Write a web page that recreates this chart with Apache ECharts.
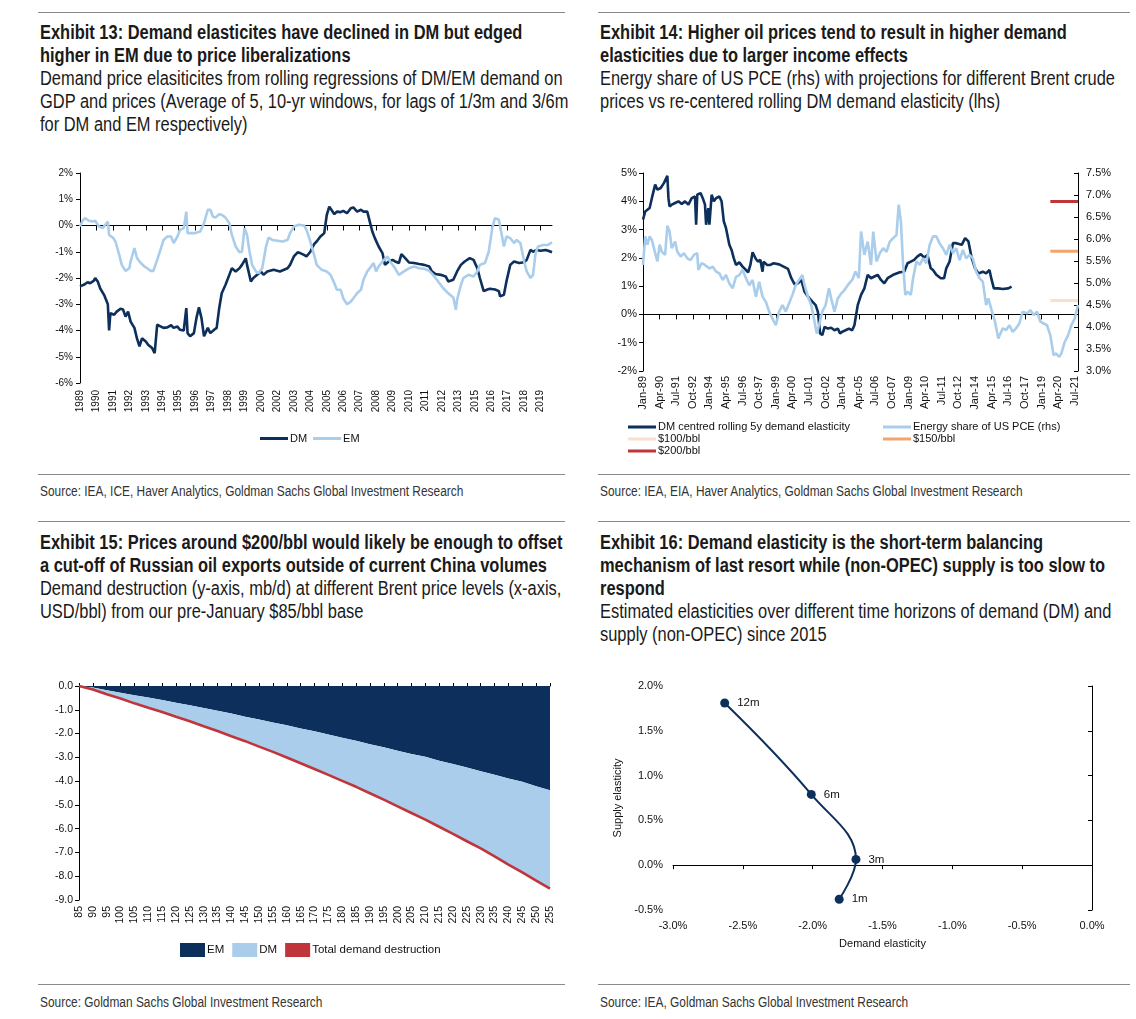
<!DOCTYPE html>
<html><head><meta charset="utf-8">
<script src="https://cdn.jsdelivr.net/npm/echarts@6/dist/echarts.min.js"></script>
<style>
body{margin:0;background:#fff;width:1136px;height:1019px;position:relative;overflow:hidden;font-family:'Liberation Sans',Arial,sans-serif;color:#1a1a1a}
.hr{position:absolute;height:0;border-top:1px solid #8a8a8a}
.title{position:absolute;font-size:19.5px;line-height:23px;white-space:nowrap;transform:scaleX(0.843);transform-origin:0 0}
.title b{font-weight:bold}
.src{position:absolute;font-size:14px;color:#333;white-space:nowrap;transform:scaleX(0.85);transform-origin:0 0}
.chart{position:absolute}
</style></head><body>
<div class="hr" style="left:38px;top:12px;width:527px"></div>
<div class="hr" style="left:598px;top:12px;width:532px"></div>
<div class="hr" style="left:38px;top:474px;width:527px"></div>
<div class="hr" style="left:598px;top:474px;width:532px"></div>
<div class="hr" style="left:38px;top:521px;width:527px"></div>
<div class="hr" style="left:598px;top:521px;width:532px"></div>
<div class="hr" style="left:38px;top:984px;width:527px"></div>
<div class="hr" style="left:598px;top:984px;width:532px"></div>

<div class="title" style="left:40px;top:21px"><b>Exhibit 13: Demand elasticites have declined in DM but edged<br>higher in EM due to price liberalizations</b><br>Demand price elasiticites from rolling regressions of DM/EM demand on<br>GDP and prices (Average of 5, 10-yr windows, for lags of 1/3m and 3/6m<br>for DM and EM respectively)</div>
<div class="title" style="left:600px;top:21px"><b>Exhibit 14: Higher oil prices tend to result in higher demand<br>elasticities due to larger income effects</b><br>Energy share of US PCE (rhs) with projections for different Brent crude<br>prices vs re-centered rolling DM demand elasticity (lhs)</div>
<div class="title" style="left:40px;top:531px"><b>Exhibit 15: Prices around $200/bbl would likely be enough to offset<br>a cut-off of Russian oil exports outside of current China volumes</b><br>Demand destruction (y-axis, mb/d) at different Brent price levels (x-axis,<br>USD/bbl) from our pre-January $85/bbl base</div>
<div class="title" style="left:600px;top:531px"><b>Exhibit 16: Demand elasticity is the short-term balancing<br>mechanism of last resort while (non-OPEC) supply is too slow to<br>respond</b><br>Estimated elasticities over different time horizons of demand (DM) and<br>supply (non-OPEC) since 2015</div>

<div class="src" style="left:40px;top:483px">Source: IEA, ICE, Haver Analytics, Goldman Sachs Global Investment Research</div>
<div class="src" style="left:600px;top:483px">Source: IEA, EIA, Haver Analytics, Goldman Sachs Global Investment Research</div>
<div class="src" style="left:40px;top:994px">Source: Goldman Sachs Global Investment Research</div>
<div class="src" style="left:600px;top:994px">Source: IEA, Goldman Sachs Global Investment Research</div>

<div id="c1" class="chart" style="left:0;top:150px;width:568px;height:320px"></div>
<div id="c2" class="chart" style="left:568px;top:150px;width:568px;height:320px"></div>
<div id="c3" class="chart" style="left:0;top:660px;width:568px;height:310px"></div>
<div id="c4" class="chart" style="left:568px;top:660px;width:568px;height:310px"></div>

<script>
// ---------- Exhibit 13: [months since Jan-1989, elasticity %] ----------
const ex13Start = 1989, ex13Months = 374;
const ex13DM = [[0,-2.32],[3,-2.26],[6,-2.16],[8,-2.2],[11,-2.1],[12,-2.0],[14,-2.13],[16,-2.4],[19,-2.64],[22,-3.0],[23,-4.0],[24,-3.34],[27,-3.4],[29,-3.28],[32,-3.17],[34,-3.2],[36,-3.47],[38,-3.28],[40,-3.66],[43,-3.9],[45,-4.3],[47,-4.6],[49,-4.3],[52,-4.42],[54,-4.55],[57,-4.67],[59,-4.86],[61,-3.78],[64,-3.85],[66,-3.9],[69,-3.88],[72,-3.8],[74,-3.9],[77,-3.85],[79,-3.97],[82,-4.0],[84,-3.15],[85,-4.1],[87,-4.22],[90,-4.1],[92,-3.53],[94,-3.12],[96,-3.53],[98,-4.22],[101,-3.9],[103,-4.1],[106,-3.97],[108,-3.9],[110,-3.15],[112,-2.58],[115,-2.26],[118,-1.88],[120,-1.63],[123,-1.75],[126,-1.63],[128,-1.5],[131,-1.25],[132,-1.5],[135,-2.13],[137,-2.0],[140,-1.88],[143,-1.75],[145,-1.88],[148,-1.75],[153,-1.69],[158,-1.75],[164,-1.63],[166,-1.5],[169,-1.18],[172,-1.02],[174,-1.05],[177,-1.12],[179,-1.18],[182,-1.0],[185,-0.71],[187,-0.61],[190,-0.42],[193,-0.29],[195,0.4],[197,0.72],[198,0.66],[201,0.43],[203,0.53],[206,0.51],[208,0.56],[211,0.47],[214,0.66],[216,0.69],[219,0.53],[222,0.6],[224,0.53],[227,0.53],[229,0.15],[231,-0.23],[233,-0.48],[236,-0.8],[239,-1.05],[241,-1.5],[244,-1.37],[247,-1.31],[249,-1.37],[252,-1.43],[254,-1.09],[257,-1.24],[260,-1.41],[264,-1.43],[268,-1.47],[272,-1.5],[276,-1.56],[278,-1.75],[281,-1.85],[285,-1.88],[289,-1.94],[291,-2.13],[295,-2.07],[298,-1.75],[301,-1.5],[304,-1.37],[308,-1.24],[311,-1.31],[314,-1.63],[316,-2.0],[319,-2.5],[322,-2.44],[324,-2.41],[328,-2.44],[331,-2.5],[332,-2.7],[335,-2.64],[337,-2.13],[340,-1.5],[343,-1.37],[347,-1.43],[351,-1.4],[353,-1.31],[356,-0.93],[358,-1.0],[361,-0.93],[364,-0.96],[368,-0.93],[370,-0.96],[373,-1.02]];
const ex13EM = [[0,-0.04],[2,0.18],[4,0.28],[7,0.18],[10,0.15],[12,0.18],[15,-0.04],[18,-0.1],[20,0.03],[22,0.15],[23,-0.36],[26,-0.46],[28,-0.61],[31,-1.12],[33,-1.5],[36,-1.73],[39,-1.63],[40,-1.37],[43,-0.86],[45,-1.24],[48,-1.43],[51,-1.56],[53,-1.63],[56,-1.73],[58,-1.73],[61,-1.31],[64,-0.86],[66,-0.55],[69,-0.42],[72,-0.42],[74,-0.67],[77,-0.42],[79,-0.17],[82,-0.1],[84,0.53],[85,-0.29],[87,-0.29],[91,-0.29],[95,-0.23],[98,0.09],[101,0.6],[103,0.6],[105,0.34],[107,0.3],[110,0.43],[112,0.41],[115,0.3],[118,0.09],[120,-0.36],[123,-0.8],[126,-1.02],[128,-1.0],[130,-0.1],[132,-0.36],[134,-1.0],[136,-1.5],[139,-1.75],[141,-1.82],[144,-1.63],[147,-0.8],[149,-0.46],[152,-0.55],[156,-0.58],[160,-0.61],[164,-0.55],[166,-0.29],[169,-0.04],[173,0.03],[177,0.0],[179,-0.17],[182,-0.61],[185,-1.12],[187,-1.5],[191,-1.69],[195,-1.75],[198,-1.88],[201,-2.2],[203,-2.45],[206,-2.45],[208,-2.77],[211,-3.0],[214,-2.9],[216,-2.77],[219,-2.58],[222,-2.45],[224,-2.07],[227,-1.75],[229,-1.63],[232,-1.43],[234,-1.75],[236,-1.56],[239,-1.37],[243,-1.18],[245,-1.37],[248,-1.56],[252,-1.88],[256,-1.75],[260,-1.63],[264,-1.56],[268,-1.63],[272,-1.65],[276,-1.73],[279,-1.88],[283,-2.13],[287,-2.39],[291,-2.58],[295,-2.74],[297,-3.21],[298,-2.83],[301,-2.26],[303,-2.0],[307,-1.88],[311,-1.94],[314,-1.75],[316,-1.5],[320,-1.43],[323,-1.0],[326,-0.04],[328,0.28],[331,0.22],[333,-0.29],[335,-0.8],[337,-0.42],[340,-0.48],[343,-0.67],[345,-0.55],[348,-0.67],[351,-1.37],[353,-1.75],[356,-2.0],[358,-1.88],[360,-1.05],[362,-0.8],[366,-0.74],[370,-0.74],[373,-0.64]];

// ---------- Exhibit 14: [months since Jan-1989, value] ----------
const ex14Months = 394;
const ex14DM = [[0,3.35],[2,3.64],[4,3.7],[6,3.76],[8,4.11],[11,4.59],[13,4.41],[16,4.47],[19,4.65],[22,4.9],[23,4.11],[24,3.82],[26,3.88],[29,3.94],[32,4.0],[35,3.9],[38,4.0],[41,3.88],[44,4.11],[47,4.17],[48,3.17],[49,4.23],[52,4.29],[54,4.11],[56,3.88],[57,3.17],[59,3.76],[60,3.17],[62,4.23],[64,4.0],[66,4.11],[69,4.17],[71,4.0],[73,3.29],[75,3.05],[78,2.46],[80,2.28],[82,1.99],[84,1.75],[87,1.84],[90,1.69],[93,1.57],[95,1.49],[97,1.75],[99,2.2],[102,1.96],[104,1.87],[106,1.93],[108,1.51],[109,1.87],[112,1.75],[115,1.75],[118,1.81],[123,1.77],[127,1.69],[131,1.61],[134,1.28],[137,1.06],[140,1.1],[143,1.22],[146,0.8],[149,0.63],[153,0.45],[156,0.33],[158,0.09],[160,-0.67],[162,-0.73],[164,-0.44],[167,-0.5],[170,-0.47],[173,-0.56],[176,-0.5],[178,-0.67],[180,-0.61],[183,-0.56],[186,-0.5],[189,-0.56],[191,-0.38],[194,0.33],[197,0.69],[200,0.92],[203,1.4],[206,1.28],[209,1.34],[212,1.4],[215,1.22],[218,1.1],[221,1.28],[226,1.4],[232,1.49],[236,1.51],[239,1.81],[242,1.87],[245,1.93],[248,2.05],[251,2.13],[254,2.01],[257,2.1],[260,1.63],[262,1.57],[265,1.4],[269,1.28],[272,1.28],[274,1.63],[277,1.87],[280,2.52],[283,2.52],[288,2.46],[291,2.7],[294,2.58],[297,1.99],[300,1.63],[303,1.45],[307,1.51],[310,1.45],[313,1.57],[315,1.22],[317,0.92],[321,0.92],[325,0.9],[330,0.92],[333,0.98]];
const ex14Energy = [[0,5.41],[2,6.06],[4,5.87],[6,6.06],[8,5.98],[11,5.68],[13,5.49],[15,5.87],[17,5.71],[20,5.64],[22,6.3],[24,6.17],[26,5.79],[29,5.94],[31,5.71],[34,5.6],[37,5.68],[40,5.56],[43,5.52],[46,5.64],[49,5.68],[50,5.3],[53,5.45],[56,5.41],[60,5.33],[63,5.37],[66,5.26],[69,5.22],[72,5.07],[75,5.18],[78,4.99],[81,4.88],[84,5.14],[87,5.18],[90,5.3],[93,5.11],[96,4.95],[99,5.07],[102,4.69],[105,5.03],[108,4.69],[111,4.57],[114,4.35],[117,4.19],[120,4.04],[123,4.35],[126,4.5],[129,4.35],[132,4.54],[135,4.73],[138,4.95],[141,5.07],[144,5.18],[146,4.95],[149,4.69],[152,4.5],[155,4.12],[157,3.85],[159,4.04],[162,4.35],[165,4.5],[168,4.88],[170,4.65],[173,4.35],[176,4.65],[179,4.76],[182,4.84],[185,4.95],[189,5.07],[192,5.26],[195,5.11],[197,6.17],[200,5.64],[203,5.94],[206,5.41],[208,6.17],[211,5.49],[214,5.68],[217,5.79],[220,5.71],[223,5.94],[226,6.02],[229,6.09],[231,6.78],[233,6.4],[235,5.41],[237,4.73],[239,4.8],[242,4.73],[244,5.11],[247,5.49],[250,5.41],[253,5.56],[256,5.45],[259,5.87],[262,6.06],[265,6.06],[268,5.9],[271,5.79],[274,5.64],[277,5.87],[280,5.68],[283,5.79],[286,5.52],[289,5.75],[292,5.56],[295,5.64],[298,5.56],[301,5.26],[304,5.11],[307,5.03],[310,4.5],[312,4.65],[315,4.38],[318,4.12],[321,3.74],[322,3.7],[325,3.97],[328,3.93],[331,4.04],[334,3.89],[337,3.97],[340,4.08],[343,4.35],[347,4.31],[350,4.38],[353,4.27],[356,4.35],[359,4.12],[362,4.08],[365,4.04],[368,3.81],[371,3.36],[373,3.4],[376,3.32],[378,3.4],[381,3.66],[384,3.81],[387,4.04],[390,4.19],[393,4.5]];
const ex14Proj100 = [[368,4.6],[393,4.6]];
const ex14Proj150 = [[368,5.72],[393,5.72]];
const ex14Proj200 = [[368,6.85],[393,6.85]];

// ---------- Exhibit 15 ----------
const ex15Prices = [85,90,95,100,105,110,115,120,125,130,135,140,145,150,155,160,165,170,175,180,185,190,195,200,205,210,215,220,225,230,235,240,245,250,255];
const ex15EM = [0,-0.06,-0.18,-0.28,-0.39,-0.48,-0.59,-0.70,-0.81,-0.92,-1.04,-1.16,-1.29,-1.41,-1.54,-1.65,-1.79,-1.90,-2.04,-2.18,-2.30,-2.45,-2.58,-2.72,-2.86,-2.98,-3.14,-3.28,-3.43,-3.59,-3.73,-3.89,-4.03,-4.22,-4.38];
const ex15DM = [0,-0.09,-0.17,-0.25,-0.34,-0.43,-0.50,-0.59,-0.67,-0.77,-0.85,-0.95,-1.03,-1.14,-1.23,-1.36,-1.46,-1.59,-1.70,-1.81,-1.94,-2.06,-2.20,-2.34,-2.48,-2.64,-2.78,-2.94,-3.10,-3.24,-3.44,-3.62,-3.81,-3.96,-4.14];
const ex15Total = [0,-0.15,-0.35,-0.53,-0.73,-0.91,-1.09,-1.29,-1.48,-1.69,-1.89,-2.11,-2.32,-2.55,-2.77,-3.01,-3.25,-3.49,-3.74,-3.99,-4.24,-4.51,-4.78,-5.06,-5.34,-5.62,-5.92,-6.22,-6.53,-6.83,-7.17,-7.51,-7.84,-8.18,-8.52];

// ---------- Exhibit 16 ----------
const ex16Horizon = ['12m','6m','3m','1m'];
const ex16Demand = [-2.63,-2.01,-1.69,-1.81];
const ex16Supply = [1.81,0.79,0.065,-0.38];

// ---------- styling ----------
const NAVY = '#0c2f5b', LIGHT = '#a9cdeb', RED = '#c0353a', ORANGE = '#f2a46f', PEACH = '#fadfd0';
const FONT = "'Liberation Sans', Arial, sans-serif";
const lab = {fontSize:11,color:'#111',fontFamily:FONT};
const lab10 = {fontSize:10,color:'#111',fontFamily:FONT};
const lab105 = {fontSize:10.5,color:'#111',fontFamily:FONT};
const lab115 = {fontSize:11.5,color:'#111',fontFamily:FONT};
const blk = {color:'#000',width:1};

// categories
const cats13 = [];
for (let m = 0; m < ex13Months; m++) cats13.push(String(ex13Start + Math.floor(m/12)) + '-' + String(m%12+1).padStart(2,'0'));
const MON = ['Jan','Feb','Mar','Apr','May','Jun','Jul','Aug','Sep','Oct','Nov','Dec'];
const cats14 = [];
for (let m = 0; m < ex14Months; m++) cats14.push(MON[m%12] + '-' + String((89 + Math.floor(m/12)) % 100).padStart(2,'0'));

// ---------- Chart 1 ----------
const c1 = echarts.init(document.getElementById('c1'));
c1.setOption({
  animation:false,
  grid:{left:80,top:23,width:472,height:210},
  xAxis:[
    {type:'category',data:cats13,boundaryGap:false,position:'bottom',
     axisLine:{show:false,onZero:false},axisTick:{show:false},
     axisLabel:Object.assign({interval:12,rotate:90,margin:7,formatter:v=>v.slice(0,4)},lab10)},
    {type:'category',data:cats13,boundaryGap:false,position:'bottom',
     axisLine:{show:true,onZero:true,lineStyle:blk},axisTick:{show:true,interval:12,length:5,lineStyle:blk},axisLabel:{show:false}}
  ],
  yAxis:{type:'value',min:-6,max:2,interval:1,splitLine:{show:false},
    axisLine:{show:true,lineStyle:blk},axisTick:{show:true,length:4,lineStyle:blk},
    axisLabel:Object.assign({formatter:'{value}%',margin:7},lab10)},
  legend:{left:255,top:278,itemWidth:28,itemHeight:3,itemGap:6,icon:'rect',
    textStyle:Object.assign({padding:[0,0,0,-3]},lab),data:['DM','EM']},
  series:[
    {name:'DM',type:'line',data:ex13DM,symbol:'none',lineStyle:{color:NAVY,width:2.6},itemStyle:{color:NAVY}},
    {name:'EM',type:'line',data:ex13EM,symbol:'none',lineStyle:{color:LIGHT,width:2.6},itemStyle:{color:LIGHT}}
  ]
});

// ---------- Chart 2 ----------
const c2 = echarts.init(document.getElementById('c2'));
c2.setOption({
  animation:false,
  grid:{left:75,top:23,width:435,height:198},
  xAxis:[
    {type:'category',data:cats14,boundaryGap:false,position:'bottom',
     axisLine:{show:false,onZero:false},axisTick:{show:false},
     axisLabel:Object.assign({interval:14,rotate:90,margin:5},lab)},
    {type:'category',data:cats14,boundaryGap:false,position:'bottom',
     axisLine:{show:true,onZero:true,onZeroAxisIndex:0,lineStyle:blk},axisTick:{show:true,interval:14,length:5,lineStyle:blk},axisLabel:{show:false}}
  ],
  yAxis:[
    {type:'value',min:-2,max:5,interval:1,position:'left',splitLine:{show:false},
     axisLine:{show:true,onZero:false,lineStyle:blk},axisTick:{show:true,length:4,lineStyle:blk},
     axisLabel:Object.assign({formatter:'{value}%',margin:6},lab)},
    {type:'value',min:3,max:7.5,interval:0.5,position:'right',splitLine:{show:false},
     axisLine:{show:true,onZero:false,lineStyle:blk},axisTick:{show:true,inside:true,length:4,lineStyle:blk},
     axisLabel:Object.assign({formatter:v=>v.toFixed(1)+'%',margin:8},lab)}
  ],
  legend:[
    {orient:'vertical',left:55,top:266,itemWidth:28,itemHeight:3,itemGap:0,icon:'rect',
     textStyle:Object.assign({padding:[0,0,0,-3],lineHeight:12},lab),
     data:['DM centred rolling 5y demand elasticity','$100/bbl','$200/bbl']},
    {orient:'vertical',left:310,top:266,itemWidth:28,itemHeight:3,itemGap:0,icon:'rect',
     textStyle:Object.assign({padding:[0,0,0,-3],lineHeight:12},lab),
     data:['Energy share of US PCE (rhs)','$150/bbl']}
  ],
  series:[
    {name:'DM centred rolling 5y demand elasticity',type:'line',yAxisIndex:0,data:ex14DM,symbol:'none',lineStyle:{color:NAVY,width:2.6},itemStyle:{color:NAVY}},
    {name:'Energy share of US PCE (rhs)',type:'line',yAxisIndex:1,data:ex14Energy,symbol:'none',lineStyle:{color:LIGHT,width:2.6},itemStyle:{color:LIGHT}},
    {name:'$100/bbl',type:'line',yAxisIndex:1,data:ex14Proj100,symbol:'none',lineStyle:{color:PEACH,width:3},itemStyle:{color:PEACH}},
    {name:'$150/bbl',type:'line',yAxisIndex:1,data:ex14Proj150,symbol:'none',lineStyle:{color:ORANGE,width:3},itemStyle:{color:ORANGE}},
    {name:'$200/bbl',type:'line',yAxisIndex:1,data:ex14Proj200,symbol:'none',lineStyle:{color:RED,width:3},itemStyle:{color:RED}}
  ]
});

// ---------- Chart 3 ----------
const c3 = echarts.init(document.getElementById('c3'));
c3.setOption({
  animation:false,
  grid:{left:79,top:26,width:471,height:214},
  xAxis:[
    {type:'category',data:ex15Prices,boundaryGap:false,position:'bottom',
     axisLine:{show:false,onZero:false},axisTick:{show:false},
     axisLabel:Object.assign({interval:0,rotate:90,margin:6},lab105)},
    {type:'category',data:ex15Prices,boundaryGap:false,position:'bottom',
     axisLine:{show:true,onZero:true,lineStyle:blk},axisTick:{show:true,interval:0,inside:true,length:3,lineStyle:blk},axisLabel:{show:false}}
  ],
  yAxis:{type:'value',min:-9,max:0,interval:1,splitLine:{show:false},
    axisLine:{show:true,lineStyle:blk},axisTick:{show:true,length:4,lineStyle:blk},
    axisLabel:Object.assign({formatter:v=>v.toFixed(1),margin:6},lab105)},
  legend:{left:175,top:278,itemWidth:25,itemGap:8,
    textStyle:Object.assign({padding:[0,0,0,-3]},lab115),
    data:[{name:'EM',icon:'rect',itemHeight:8},{name:'DM',icon:'rect',itemHeight:8},{name:'Total demand destruction',icon:'rect',itemHeight:3}]},
  series:[
    {name:'EM',type:'line',stack:'dd',data:ex15EM,symbol:'none',lineStyle:{width:0},areaStyle:{color:NAVY,opacity:1},itemStyle:{color:NAVY}},
    {name:'DM',type:'line',stack:'dd',data:ex15DM,symbol:'none',lineStyle:{width:0},areaStyle:{color:LIGHT,opacity:1},itemStyle:{color:LIGHT}},
    {name:'Total demand destruction',type:'line',data:ex15Total,symbol:'none',lineStyle:{color:RED,width:2.6},itemStyle:{color:RED}}
  ]
});

// ---------- Chart 4 ----------
const c4 = echarts.init(document.getElementById('c4'));
c4.setOption({
  animation:false,
  grid:{left:105,top:26,width:419,height:224},
  xAxis:[
    {type:'value',min:-3,max:0,interval:0.5,position:'bottom',splitLine:{show:false},
     axisLine:{show:false,onZero:false},axisTick:{show:false},
     axisLabel:Object.assign({formatter:v=>v.toFixed(1)+'%',margin:10},lab),
     name:'Demand elasticity',nameLocation:'middle',nameGap:28,nameTextStyle:lab},
    {type:'value',min:-3,max:0,interval:0.5,position:'bottom',splitLine:{show:false},
     axisLine:{show:true,onZero:true,lineStyle:blk},axisTick:{show:true,length:4,lineStyle:blk},axisLabel:{show:false}}
  ],
  yAxis:[
    {type:'value',min:-0.5,max:2,interval:0.5,position:'left',splitLine:{show:false},
     axisLine:{show:false,onZero:false},axisTick:{show:false},
     axisLabel:Object.assign({formatter:v=>v.toFixed(1)+'%',margin:10},lab),
     name:'Supply elasticity',nameLocation:'middle',nameRotate:90,nameGap:34,nameTextStyle:lab},
    {type:'value',min:-0.5,max:2,interval:0.5,position:'right',splitLine:{show:false},
     axisLine:{show:true,onZero:false,lineStyle:blk},axisTick:{show:true,inside:true,length:4,lineStyle:blk},axisLabel:{show:false}}
  ],
  series:[
    {type:'line',smooth:0.4,data:ex16Horizon.map((h,i)=>({name:h,value:[ex16Demand[i],ex16Supply[i]]})),
     symbol:'circle',symbolSize:9,lineStyle:{color:NAVY,width:2},itemStyle:{color:NAVY},
     label:Object.assign({show:true,position:'right',distance:8,formatter:p=>p.name},lab115)}
  ]
});
</script>
</body></html>
